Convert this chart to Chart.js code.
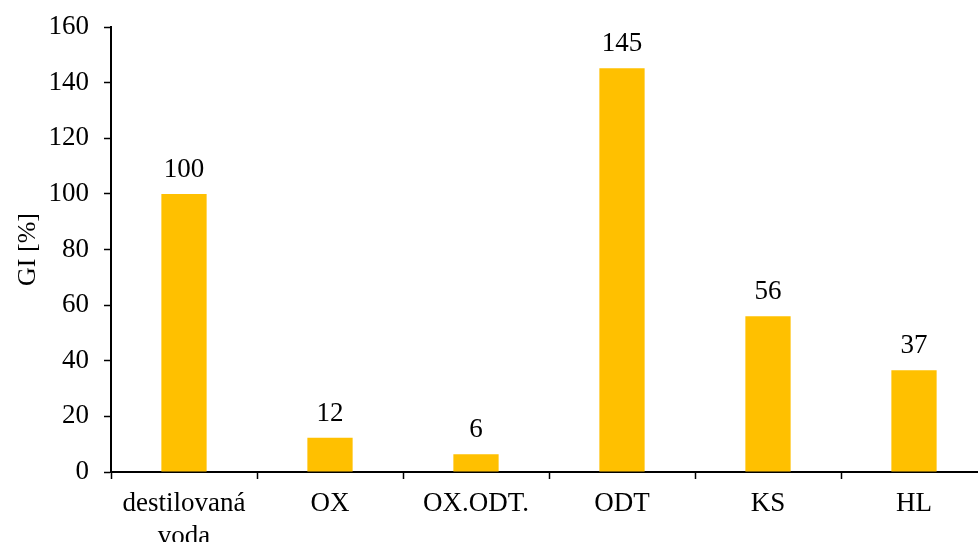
<!DOCTYPE html>
<html>
<head>
<meta charset="utf-8">
<script src="https://cdn.jsdelivr.net/npm/chart.js@4.4.1/dist/chart.umd.min.js"></script>
<style>
  html, body { margin: 0; padding: 0; background: #fff; overflow: hidden; }
  #wrap { width: 990px; height: 542px; }
</style>
</head>
<body>
<div id="wrap"><canvas id="giChart"></canvas></div>
<script>
// data
var categories = [["destilovaná", "voda"], "OX", "OX.ODT.", "ODT", "KS", "HL"];
var giValues = [100, 12.3, 6.4, 145.2, 56, 36.6];
var valueLabels = ["100", "12", "6", "145", "56", "37"];
var yTicks = [0, 20, 40, 60, 80, 100, 120, 140, 160];

var serif = "'Liberation Serif', 'Times New Roman', serif";

// popisky nad sloupci
var barLabels = {
    id: 'barLabels',
    afterDatasetsDraw: function(chart) {
        var ctx = chart.ctx;
        var meta = chart.getDatasetMeta(0);
        ctx.save();
        ctx.font = "27px " + serif;
        ctx.fillStyle = '#000';
        ctx.textAlign = 'center';
        ctx.textBaseline = 'alphabetic';
        meta.data.forEach(function(bar, i) {
            ctx.fillText(valueLabels[i], bar.x, bar.y - 17);
        });
        ctx.restore();
    }
};

var giChart = new Chart(document.getElementById('giChart'), {
    type: 'bar',
    data: {
        labels: categories,
        datasets: [{
            data: giValues,
            backgroundColor: '#FFC000',
            barPercentage: 0.31,
            categoryPercentage: 1.0
        }]
    },
    options: {
        responsive: true,
        maintainAspectRatio: false,
        animation: false,
        layout: { padding: { top: 27, right: 3, left: 0, bottom: 0 } },
        plugins: {
            legend: { display: false },
            tooltip: { enabled: false }
        },
        scales: {
            x: {
                offset: true,
                grid: {
                    offset: true,
                    drawOnChartArea: false,
                    drawTicks: true,
                    tickLength: 7,
                    tickWidth: 1.5,
                    tickColor: '#000'
                },
                border: { color: '#000', width: 2 },
                ticks: {
                    color: '#000',
                    padding: 9,
                    maxRotation: 0,
                    autoSkip: false,
                    font: { family: serif, size: 27, lineHeight: 1.2 }
                },
                afterFit: function(scale) {
                    scale.height = 70;
                    scale.paddingLeft = 0;
                    scale.paddingRight = 0;
                }
            },
            y: {
                min: 0,
                max: 160,
                afterBuildTicks: function(scale) {
                    scale.ticks = yTicks.map(function(v) { return { value: v }; });
                },
                grid: {
                    drawOnChartArea: false,
                    drawTicks: true,
                    tickLength: 7,
                    tickWidth: 1.5,
                    tickColor: '#000'
                },
                border: { color: '#000', width: 2 },
                ticks: {
                    color: '#000',
                    padding: 15,
                    font: { family: serif, size: 27 }
                },
                title: {
                    display: true,
                    text: 'GI [%]',
                    color: '#000',
                    padding: { top: 13, bottom: 0 },
                    font: { family: serif, size: 26 }
                },
                afterFit: function(scale) {
                    scale.width = 111;
                    scale.paddingTop = 0;
                    scale.paddingBottom = 0;
                }
            }
        }
    },
    plugins: [barLabels]
});
</script>
</body>
</html>
